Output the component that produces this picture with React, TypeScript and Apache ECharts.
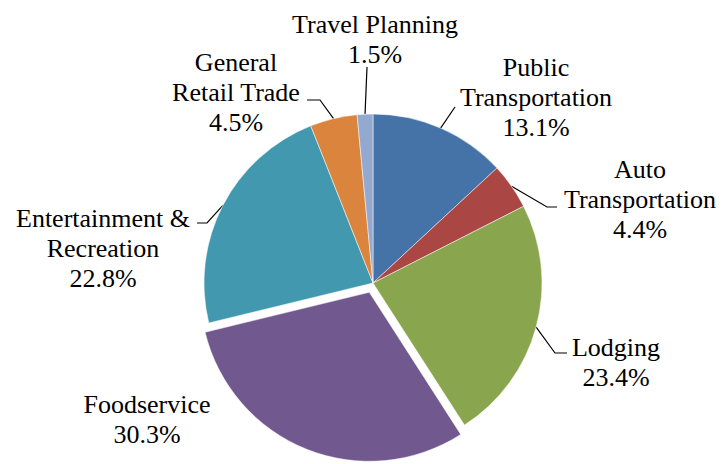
import React, { useEffect, useRef } from "react";
import * as echarts from "echarts";

const categories = [
  "Public Transportation",
  "Auto Transportation",
  "Lodging",
  "Foodservice",
  "Entertainment & Recreation",
  "General Retail Trade",
  "Travel Planning",
];
const labelNames = [
  "Public\nTransportation",
  "Auto\nTransportation",
  "Lodging",
  "Foodservice",
  "Entertainment &\nRecreation",
  "General\nRetail Trade",
  "Travel Planning",
];
const values = [13.1, 4.4, 23.4, 30.3, 22.8, 4.5, 1.5];
const explodedIndex = 3;

const colors = ["#4572A7", "#AA4643", "#89A54E", "#71588F", "#4198AF", "#DB843D", "#93A9CF"];

// ---- layout (px) ----
const CX = 373;
const CY = 283;
const R = 169;
const EXPLODE = 10;
const labelPos = [
  [536, 97],
  [640, 199],
  [616, 362],
  [147, 419],
  [103, 248],
  [236, 92],
  [375, 39],
];
// label-line elbow and end points (null = no line)
const labelLineTail: (number[][] | null)[] = [
  [[455, 107], [455, 107]],
  [[547, 207], [557, 207]],
  [[555, 353], [567, 353]],
  null,
  [[207, 223], [197, 223]],
  [[320, 100], [307, 100]],
  [[367, 67], [367, 67]],
];

const FONT = "'Liberation Serif', 'Times New Roman', 'DejaVu Serif', serif";

export default function App() {
  const ref = useRef<HTMLDivElement>(null);
  useEffect(() => {
    if (!ref.current) return;
    const chart = echarts.init(ref.current, null, { renderer: "svg" });

    const total = values.reduce((a, b) => a + b, 0);
    const before = values.slice(0, explodedIndex).reduce((a, b) => a + b, 0);
    const midFrac = (before + values[explodedIndex] / 2) / total;
    const midAngle = ((90 - 360 * midFrac) * Math.PI) / 180;
    const ex = CX + EXPLODE * Math.cos(midAngle);
    const ey = CY - EXPLODE * Math.sin(midAngle);

    const labelBase = {
      show: true,
      position: "outside",
      fontFamily: FONT,
      fontSize: 26,
      lineHeight: 30,
      color: "#000000",
      align: "center",
      formatter: (p: any) => labelNames[p.dataIndex] + "\n" + values[p.dataIndex].toFixed(1) + "%",
    };

    const layoutFn = (p: any) => {
      const tail = labelLineTail[p.dataIndex];
      const res: any = {
        x: labelPos[p.dataIndex][0],
        y: labelPos[p.dataIndex][1],
        align: "center",
        verticalAlign: "middle",
      };
      if (tail && p.labelLinePoints) {
        res.labelLinePoints = [p.labelLinePoints[0], tail[0], tail[1]];
      }
      return res;
    };

    const makeData = (visible: (i: number) => boolean, withLine: boolean) =>
      categories.map((c, i) => {
        const vis = visible(i);
        return {
          name: c,
          value: values[i],
          itemStyle: vis
            ? { color: colors[i], borderColor: "#ffffff", borderWidth: 0.5 }
            : { color: colors[i], opacity: 0, borderWidth: 0 },
          label: { show: vis },
          labelLine: { show: vis && withLine && labelLineTail[i] !== null },
        };
      });

    const common = {
      type: "pie",
      radius: R,
      startAngle: 90,
      clockwise: true,
      avoidLabelOverlap: false,
      silent: true,
      emphasis: { disabled: true },
      label: labelBase,
      labelLine: {
        show: true,
        length: 10,
        length2: 10,
        lineStyle: { color: "#000000", width: 1.2 },
      },
      labelLayout: layoutFn,
    };

    chart.setOption({
      animation: false,
      backgroundColor: "#ffffff",
      series: [
        {
          ...common,
          center: [CX, CY],
          data: makeData((i) => i !== explodedIndex, true),
        },
        {
          ...common,
          center: [ex, ey],
          data: makeData((i) => i === explodedIndex, false),
        },
      ],
    });
    return () => chart.dispose();
  }, []);
  return (
    <div
      ref={ref}
      style={{ position: "fixed", left: 0, top: 0, width: 721, height: 464, background: "#fff" }}
    />
  );
}
